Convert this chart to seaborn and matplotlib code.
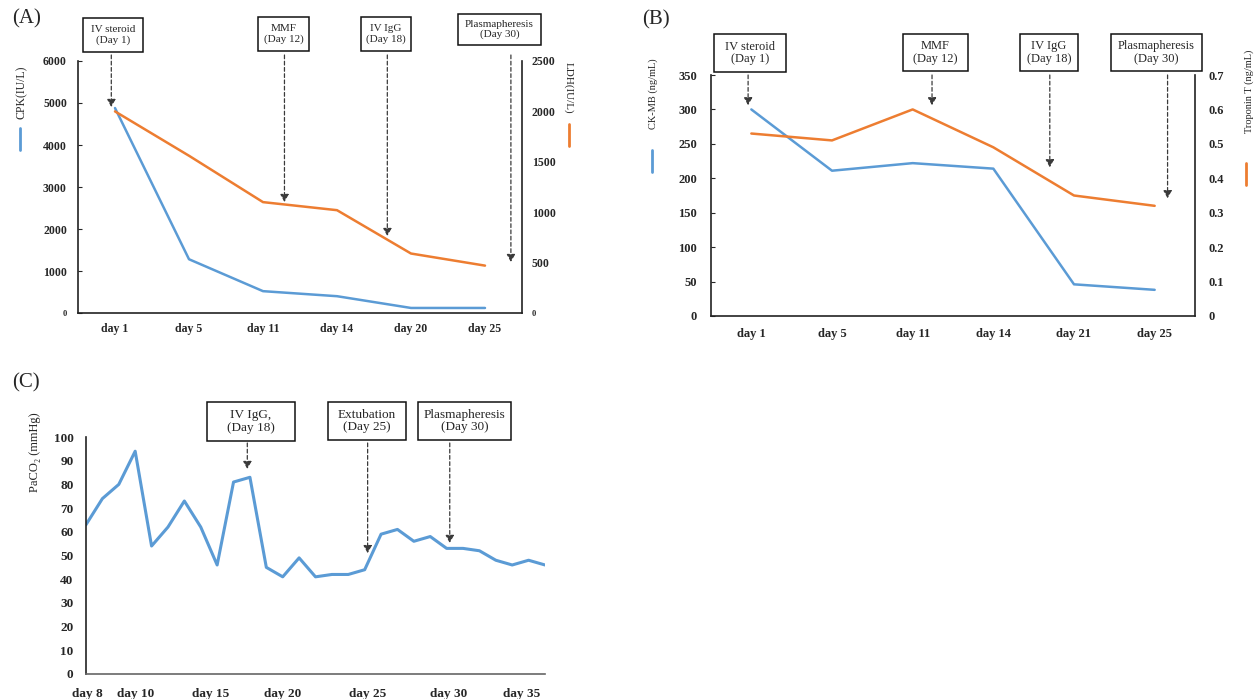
import numpy as np
import pandas as pd
import matplotlib
matplotlib.use("Agg")
import matplotlib.pyplot as plt
from matplotlib.patches import Rectangle
from matplotlib.lines import Line2D
import seaborn as sns

# ---- data -------------------------------------------------------------
a_days = ["day 1", "day 5", "day 11", "day 14", "day 20", "day 25"]
cpk = [4880, 1280, 520, 400, 120, 120]          # IU/L
ldh = [2000, 1560, 1100, 1020, 590, 470]        # IU/L

b_days = ["day 1", "day 5", "day 11", "day 14", "day 21", "day 25"]
ckmb = [300, 211, 222, 214, 46, 38]             # ng/mL
troponin = [0.53, 0.51, 0.60, 0.49, 0.35, 0.32] # ng/mL

paco2 = [63, 74, 80, 94, 54, 62, 73, 62, 46, 81, 83, 45, 41, 49, 41,
         42, 42, 44, 59, 61, 56, 58, 53, 53, 52, 48, 46, 48, 46]  # mmHg
c_day_labels = ["day 8", "day 10", "day 15", "day 20", "day 25", "day 30", "day 35"]
c_label_pos = [0.1, 3.0, 7.6, 12.0, 17.2, 22.1, 26.6]

# ---- style ------------------------------------------------------------
sns.set_style("white")
plt.rcParams["font.family"] = ["Liberation Serif", "DejaVu Serif"]
plt.rcParams["axes.linewidth"] = 1.2
plt.rcParams["axes.edgecolor"] = "#222222"

BLUE = "#5B9BD5"
ORANGE = "#ED7D31"
W, H = 1255, 699

fig = plt.figure(figsize=(W / 100, H / 100), dpi=100)


def axes_px(l, t, r, b):
    return fig.add_axes([l / W, 1 - b / H, (r - l) / W, (b - t) / H])


def fig_line(x, y0, y1, color):
    fig.add_artist(Line2D([x / W, x / W], [1 - y0 / H, 1 - y1 / H],
                          transform=fig.transFigure, color=color, lw=2))


def event(ax, text, box, fs, tip, tail_y):
    """Boxed treatment label with a dashed arrow pointing at the curve."""
    l, t, r, b = box
    fig.add_artist(Rectangle((l / W, 1 - b / H), (r - l) / W, (b - t) / H,
                             transform=fig.transFigure, fill=False,
                             ec="#111111", lw=1.1))
    fig.text((l + r) / 2 / W, 1 - (t + b) / 2 / H, text, ha="center",
             va="center", fontsize=fs, linespacing=1.1)
    ax.annotate("", xy=tip, xycoords="data",
                xytext=(tip[0], 1 - tail_y / H),
                textcoords=("data", "figure fraction"),
                arrowprops=dict(arrowstyle="-|>,head_length=0.45,head_width=0.25",
                                mutation_scale=10, color="#3a3a3a", lw=0.9,
                                linestyle=(0, (3, 2)), shrinkA=0, shrinkB=0),
                annotation_clip=False)


def style_axis(ax, right=False):
    sns.despine(ax=ax, top=True, right=not right, left=right)
    ax.set_xlabel("")
    ax.set_ylabel("")


# ---- panel A: CPK / LDH -------------------------------------------------
axA = axes_px(78, 61, 522, 313)
axA2 = axA.twinx()
dfA = pd.DataFrame({"pos": np.arange(len(a_days)), "cpk": cpk, "ldh": ldh})
sns.lineplot(data=dfA, x="pos", y="cpk", ax=axA, color=BLUE, lw=1.8)
sns.lineplot(data=dfA, x="pos", y="ldh", ax=axA2, color=ORANGE, lw=1.8)
axA.set_xlim(-0.5, 5.5)
axA.set_ylim(0, 6000)
axA2.set_ylim(0, 2500)
axA.set_xticks(range(len(a_days)))
axA.set_xticklabels(a_days, fontsize=8.5, fontweight="bold")
axA.tick_params(axis="x", length=0, pad=7)
axA.set_yticks(range(0, 6001, 1000))
axA.set_yticklabels([str(v) for v in range(0, 6001, 1000)], fontsize=8.5, fontweight="bold")
axA.get_yticklabels()[0].set_fontsize(6)
axA.tick_params(axis="y", direction="in", length=3, pad=8)
axA2.set_yticks(range(0, 2501, 500))
axA2.set_yticklabels([str(v) for v in range(0, 2501, 500)], fontsize=8.5, fontweight="bold")
axA2.get_yticklabels()[0].set_fontsize(6)
axA2.tick_params(axis="y", direction="in", length=3, pad=7)
style_axis(axA)
style_axis(axA2, right=True)
axA2.spines["bottom"].set_visible(False)

fig.text(22 / W, 1 - 92 / H, "CPK(IU/L)", rotation=90, ha="center", va="center", fontsize=8.5)
fig_line(20, 128, 150, BLUE)
fig.text(568 / W, 1 - 88 / H, "LDH(IU/L)", rotation=270, ha="center", va="center", fontsize=8)
fig_line(569, 124, 146, ORANGE)
fig.text(27 / W, 1 - 19 / H, "(A)", ha="center", va="center", fontsize=15)

event(axA, "IV steroid\n(Day 1)", (83, 18, 143, 52), 8, (-0.05, 4905), 55)
event(axA, "MMF\n(Day 12)", (258, 17, 309, 51), 8, (2.29, 2643), 55)
event(axA, "IV IgG\n(Day 18)", (361, 17, 411, 51), 8, (3.68, 1833), 55)
event(axA, "Plasmapheresis\n(Day 30)", (458, 14, 541, 45), 8, (5.35, 1214), 55)

# ---- panel B: CK-MB / Troponin T -----------------------------------------
axB = axes_px(711, 75, 1195, 316)
axB2 = axB.twinx()
dfB = pd.DataFrame({"pos": np.arange(len(b_days)), "ckmb": ckmb, "trop": troponin})
sns.lineplot(data=dfB, x="pos", y="ckmb", ax=axB, color=BLUE, lw=1.8)
sns.lineplot(data=dfB, x="pos", y="trop", ax=axB2, color=ORANGE, lw=1.8)
axB.set_xlim(-0.5, 5.5)
axB.set_ylim(0, 350)
axB2.set_ylim(0, 0.7)
axB.set_xticks(range(len(b_days)))
axB.set_xticklabels(b_days, fontsize=9, fontweight="bold")
axB.tick_params(axis="x", length=0, pad=9)
axB.set_yticks(range(0, 351, 50))
axB.set_yticklabels([str(v) for v in range(0, 351, 50)], fontsize=9, fontweight="bold")
axB.tick_params(axis="y", direction="in", length=3, pad=10)
tv = np.round(np.arange(0, 0.71, 0.1), 1)
axB2.set_yticks(tv)
axB2.set_yticklabels(["0"] + [f"{v:.1f}" for v in tv[1:]], fontsize=9, fontweight="bold")
axB2.tick_params(axis="y", direction="in", length=3, pad=10)
style_axis(axB)
style_axis(axB2, right=True)
axB2.spines["bottom"].set_visible(False)

fig.text(653 / W, 1 - 94 / H, "CK-MB (ng/mL)", rotation=90, ha="center", va="center", fontsize=7.5)
fig_line(652, 150, 172, BLUE)
fig.text(1249 / W, 1 - 91 / H, "Troponin T (ng/mL)", rotation=90, ha="center", va="center", fontsize=7.5)
fig_line(1246, 163, 185, ORANGE)
fig.text(656 / W, 1 - 20 / H, "(B)", ha="center", va="center", fontsize=15)

event(axB, "IV steroid\n(Day 1)", (714, 34, 786, 72), 9, (-0.04, 306), 75)
event(axB, "MMF\n(Day 12)", (903, 34, 968, 71), 9, (2.24, 306), 75)
event(axB, "IV IgG\n(Day 18)", (1020, 34, 1078, 71), 9, (3.70, 216), 75)
event(axB, "Plasmapheresis\n(Day 30)", (1111, 34, 1202, 71), 9, (5.16, 171), 75)

# ---- panel C: PaCO2 -----------------------------------------------------
axC = axes_px(86, 437, 545, 674)
dfC = pd.DataFrame({"pos": np.arange(len(paco2)), "paco2": paco2})
sns.lineplot(data=dfC, x="pos", y="paco2", ax=axC, color=BLUE, lw=2.2)
axC.set_xlim(0, len(paco2) - 1)
axC.set_ylim(0, 100)
axC.set_xticks(c_label_pos)
axC.set_xticklabels(c_day_labels, fontsize=9.5, fontweight="bold")
axC.set_xticks(np.arange(len(paco2)), minor=True)
axC.tick_params(axis="x", which="major", length=0, pad=10)
axC.tick_params(axis="x", which="minor", direction="in", length=4, width=0.8, color="#777777")
axC.set_yticks(range(0, 101, 10))
axC.set_yticklabels([str(v) for v in range(0, 101, 10)], fontsize=9.5, fontweight="bold")
axC.tick_params(axis="y", direction="in", length=4, pad=9)
style_axis(axC)
axC.spines["bottom"].set_color("#666666")

fig.text(35 / W, 1 - 452 / H, "PaCO₂ (mmHg)", rotation=90, ha="center", va="center", fontsize=9)
fig.text(26 / W, 1 - 383 / H, "(C)", ha="center", va="center", fontsize=15)

event(axC, "IV IgG,\n(Day 18)", (207, 402, 295, 441), 9.5, (9.84, 86.5), 443)
event(axC, "Extubation\n(Day 25)", (328, 402, 406, 440), 9.5, (17.18, 51), 443)
event(axC, "Plasmapheresis\n(Day 30)", (418, 402, 511, 440), 9.5, (22.19, 55.3), 443)

fig.savefig("out.png", dpi=100, facecolor="white")
